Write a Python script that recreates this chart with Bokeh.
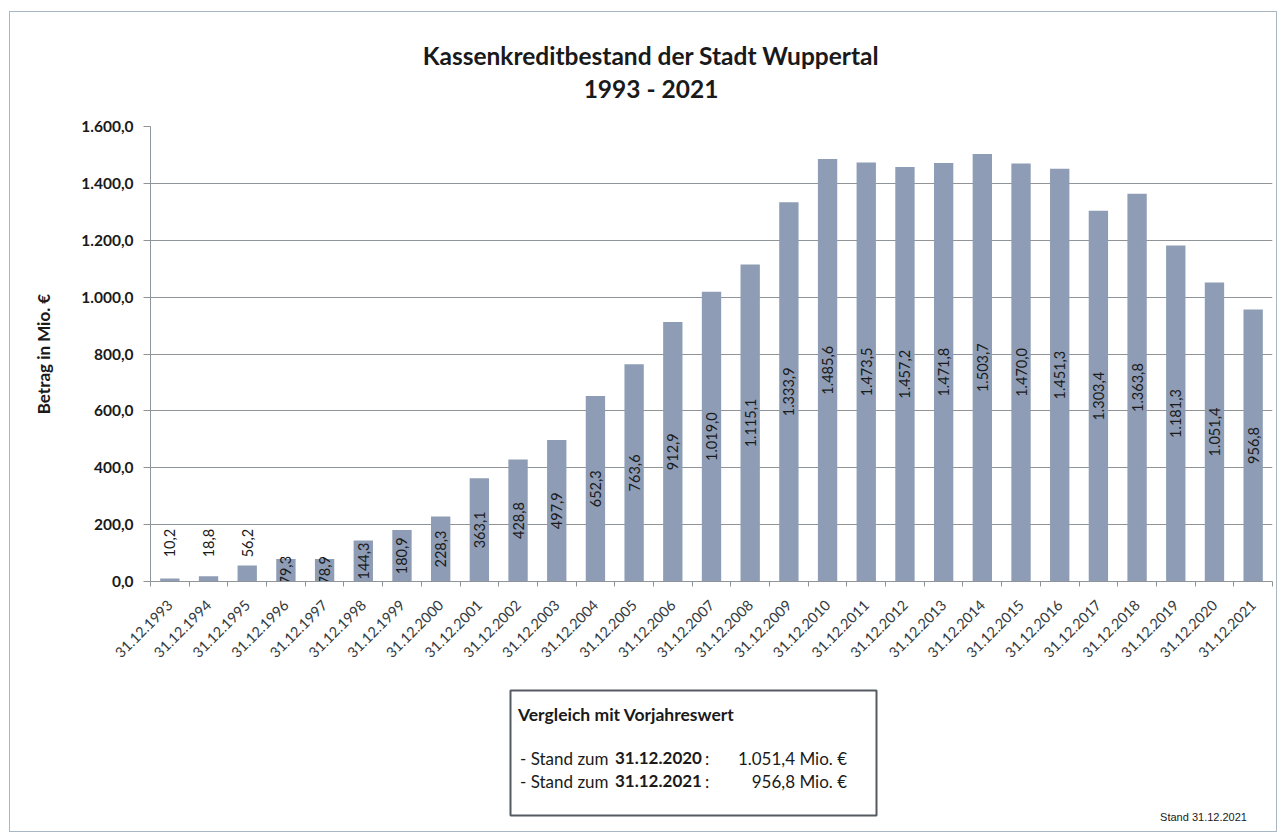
import math
from bokeh.plotting import figure
from bokeh.models import (Range1d, FixedTicker, CustomJSTickFormatter,
                          LinearAxis, ColumnDataSource)
from bokeh.layouts import column
from bokeh.core.properties import value
from bokeh.embed import file_html
from bokeh.resources import INLINE

# ---------------- data ----------------
years = list(range(1993, 2022))
dates = [f"31.12.{y}" for y in years]
amounts = [10.2, 18.8, 56.2, 79.3, 78.9, 144.3, 180.9, 228.3, 363.1, 428.8,
           497.9, 652.3, 763.6, 912.9, 1019.0, 1115.1, 1333.9, 1485.6, 1473.5,
           1457.2, 1471.8, 1503.7, 1470.0, 1451.3, 1303.4, 1363.8, 1181.3,
           1051.4, 956.8]
y_ticks = [0, 200, 400, 600, 800, 1000, 1200, 1400, 1600]
title_lines = ["Kassenkreditbestand der Stadt Wuppertal", "1993 - 2021"]
y_title = "Betrag in Mio. €"
box_heading = "Vergleich mit Vorjahreswert"
cmp_dates = ["31.12.2020", "31.12.2021"]
cmp_values = [1051.4, 956.8]
stand_text = "Stand  31.12.2021"


def de(v):
    s = f"{v:,.1f}"
    return s.replace(",", "X").replace(".", ",").replace("X", ".")


FONT = "Lato"
BAR = "#8E9DB5"
GRID = "#8f9499"
TXT = "#1a1a1a"

W = 1266
L, R = 140, 4
HT = 102          # title panel
H1 = 565          # chart
T, B = 12, 98
H2 = 152          # comparison panel
n = len(dates)


def panel(h):
    f = figure(width=W, height=h, output_backend="svg", toolbar_location=None,
               x_range=Range1d(L, W - R), y_range=Range1d(h, 0),
               x_axis_location=None, y_axis_location=None, min_border=0)
    f.outline_line_color = None
    f.grid.grid_line_color = None
    f.background_fill_color = "white"
    f.border_fill_color = "white"
    return f


# ---------------- title panel ----------------
t = panel(HT)
t.text(x=[640.5, 640.5], y=[42.5, 75.5], text=title_lines, text_align="center",
       text_baseline="middle", text_font=value(FONT), text_font_style="bold",
       text_font_size="24.5px", text_color=TXT)

# ---------------- chart ----------------
p = figure(width=W, height=H1, output_backend="svg", toolbar_location=None,
           x_range=Range1d(-0.5, n - 0.5), y_range=Range1d(0, 1600),
           min_border_left=L, min_border_right=R, min_border_top=T,
           min_border_bottom=B)
p.outline_line_color = None
p.background_fill_color = "white"
p.border_fill_color = "white"

xs = list(range(n))
lab_y = [v / 2 if v > 70 else 135 for v in amounts]
src = ColumnDataSource(dict(x=xs, top=amounts, lab=[de(v) for v in amounts],
                            ly=lab_y))
p.vbar(x="x", top="top", width=0.5, source=src, fill_color=BAR,
       line_color=None)
p.text(x="x", y="ly", text="lab", source=src, angle=math.pi / 2,
       text_align="center", text_baseline="middle",
       text_font=value(FONT), text_font_size="14.5px", text_color=TXT)

# x axis 1: boundary ticks only
p.xaxis.ticker = FixedTicker(ticks=[i - 0.5 for i in range(n + 1)])
p.xaxis.major_label_text_font_size = "0px"
p.xaxis.major_label_overrides = {i - 0.5: "" for i in range(n + 1)}
p.xaxis.major_tick_out = 5
p.xaxis.major_tick_in = 0
p.xaxis.major_tick_line_color = GRID
p.xaxis.minor_tick_line_color = None
p.xaxis.axis_line_color = GRID
p.xaxis.major_label_standoff = 0
# x axis 2: rotated date labels
ax2 = LinearAxis(ticker=FixedTicker(ticks=xs),
                 major_label_overrides={i: d for i, d in enumerate(dates)},
                 major_label_orientation=math.pi / 4,
                 major_tick_line_color=None, minor_tick_line_color=None,
                 axis_line_color=None, major_label_standoff=10,
                 major_label_text_font=FONT, major_label_text_font_size="14.5px",
                 major_label_text_color="#333a40")
p.add_layout(ax2, "below")
p.xgrid.grid_line_color = None

p.yaxis.ticker = FixedTicker(ticks=y_ticks)
p.yaxis.formatter = CustomJSTickFormatter(code="""
    const s = tick.toFixed(1).split('.');
    const i = s[0].replace(/\\B(?=(\\d{3})+(?!\\d))/g, '.');
    return i + ',' + s[1];
""")
p.yaxis.minor_tick_line_color = None
p.yaxis.major_tick_out = 7
p.yaxis.major_tick_in = 0
p.yaxis.major_tick_line_color = GRID
p.yaxis.axis_line_color = GRID
p.yaxis.major_label_text_font = FONT
p.yaxis.major_label_text_font_style = "bold"
p.yaxis.major_label_text_font_size = "15.5px"
p.yaxis.major_label_text_color = TXT
p.yaxis.major_label_standoff = 10
p.yaxis.axis_label = y_title
p.yaxis.axis_label_text_font = FONT
p.yaxis.axis_label_text_font_style = "bold"
p.yaxis.axis_label_text_font_size = "17px"
p.yaxis.axis_label_text_color = TXT
p.yaxis.axis_label_standoff = 24
p.ygrid.grid_line_color = GRID
p.ygrid.grid_line_width = 1

# ---------------- comparison panel ----------------
q = panel(H2)
q.quad(left=[500], right=[866], top=[11], bottom=[136], fill_color=None,
       line_color="#555b60", line_width=2)
q.text(x=[507.5], y=[34.5], text=[box_heading], text_align="left",
       text_baseline="middle", text_font=value(FONT), text_font_style="bold",
       text_font_size="17.5px", text_color=TXT)
rows_y = [78.5, 101.5]
q.text(x=[509.5] * 2, y=rows_y, text=["- Stand zum"] * 2, text_align="left",
       text_baseline="middle", text_font=value(FONT), text_font_size="17px",
       text_color=TXT)
q.text(x=[604.5] * 2, y=rows_y, text=cmp_dates, text_align="left",
       text_baseline="middle", text_font=value(FONT), text_font_style="bold",
       text_font_size="17px", text_color=TXT)
q.text(x=[694.5] * 2, y=rows_y, text=[":"] * 2, text_align="left",
       text_baseline="middle", text_font=value(FONT), text_font_size="17px",
       text_color=TXT)
q.text(x=[836.5] * 2, y=rows_y, text=[f"{de(v)} Mio. €" for v in cmp_values],
       text_align="right", text_baseline="middle", text_font=value(FONT),
       text_font_size="17px", text_color=TXT)
q.text(x=[1239.5], y=[137.5], text=[stand_text], text_align="right",
       text_baseline="middle", text_font=value("Liberation Sans"),
       text_font_size="11px", text_color=TXT)

layout = column(t, p, q, spacing=0, margin=(11, 0, 0, 9),
                styles={"border": "1.5px solid #a9b6c4"})
open("out.html", "w").write(file_html(layout, INLINE))
